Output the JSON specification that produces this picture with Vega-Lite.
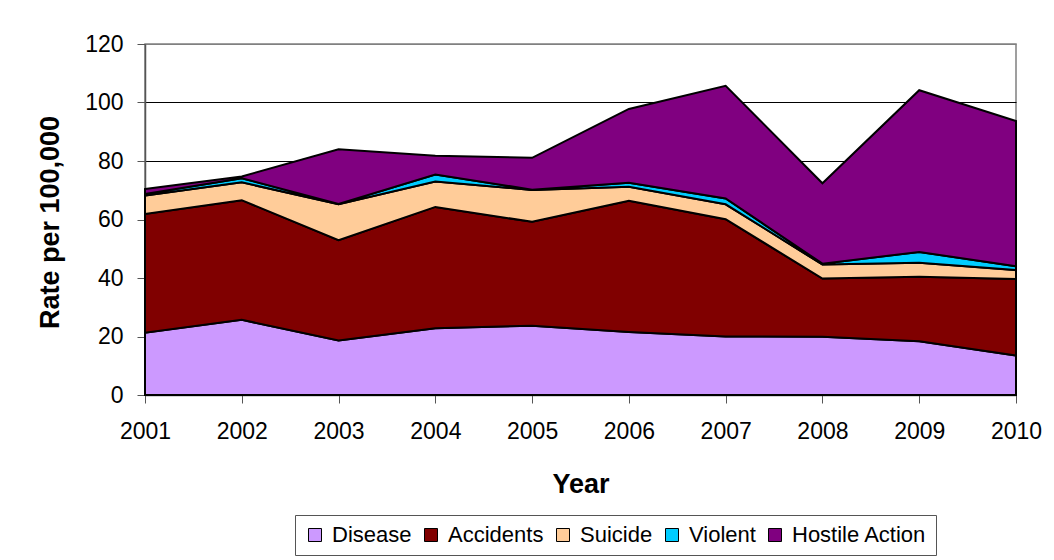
{
  "$schema": "https://vega.github.io/schema/vega-lite/v6.json",
  "autosize": {"type": "none"},
  "width": 871,
  "height": 351,
  "padding": {"left": 145, "top": 44, "right": 38, "bottom": 165},
  "background": "white",
  "config": {
    "font": "Liberation Sans",
    "view": {"stroke": "#808080", "strokeWidth": 1.5}
  },
  "data": {
    "values": [
      {"year": 2001, "cause": "Disease", "rate": 21.3},
      {"year": 2001, "cause": "Accidents", "rate": 40.6},
      {"year": 2001, "cause": "Suicide", "rate": 6.3},
      {"year": 2001, "cause": "Violent", "rate": 0.5},
      {"year": 2001, "cause": "Hostile Action", "rate": 1.7},
      {"year": 2002, "cause": "Disease", "rate": 25.7},
      {"year": 2002, "cause": "Accidents", "rate": 40.9},
      {"year": 2002, "cause": "Suicide", "rate": 6.1},
      {"year": 2002, "cause": "Violent", "rate": 1.4},
      {"year": 2002, "cause": "Hostile Action", "rate": 0.6},
      {"year": 2003, "cause": "Disease", "rate": 18.6},
      {"year": 2003, "cause": "Accidents", "rate": 34.3},
      {"year": 2003, "cause": "Suicide", "rate": 12.3},
      {"year": 2003, "cause": "Violent", "rate": 0.1},
      {"year": 2003, "cause": "Hostile Action", "rate": 18.7},
      {"year": 2004, "cause": "Disease", "rate": 22.8},
      {"year": 2004, "cause": "Accidents", "rate": 41.5},
      {"year": 2004, "cause": "Suicide", "rate": 8.7},
      {"year": 2004, "cause": "Violent", "rate": 2.4},
      {"year": 2004, "cause": "Hostile Action", "rate": 6.4},
      {"year": 2005, "cause": "Disease", "rate": 23.7},
      {"year": 2005, "cause": "Accidents", "rate": 35.5},
      {"year": 2005, "cause": "Suicide", "rate": 10.9},
      {"year": 2005, "cause": "Violent", "rate": 0.1},
      {"year": 2005, "cause": "Hostile Action", "rate": 10.9},
      {"year": 2006, "cause": "Disease", "rate": 21.5},
      {"year": 2006, "cause": "Accidents", "rate": 44.9},
      {"year": 2006, "cause": "Suicide", "rate": 4.8},
      {"year": 2006, "cause": "Violent", "rate": 1.4},
      {"year": 2006, "cause": "Hostile Action", "rate": 25.2},
      {"year": 2007, "cause": "Disease", "rate": 20.0},
      {"year": 2007, "cause": "Accidents", "rate": 40.1},
      {"year": 2007, "cause": "Suicide", "rate": 5.1},
      {"year": 2007, "cause": "Violent", "rate": 2.0},
      {"year": 2007, "cause": "Hostile Action", "rate": 38.5},
      {"year": 2008, "cause": "Disease", "rate": 19.9},
      {"year": 2008, "cause": "Accidents", "rate": 19.9},
      {"year": 2008, "cause": "Suicide", "rate": 4.8},
      {"year": 2008, "cause": "Violent", "rate": 0.3},
      {"year": 2008, "cause": "Hostile Action", "rate": 27.5},
      {"year": 2009, "cause": "Disease", "rate": 18.4},
      {"year": 2009, "cause": "Accidents", "rate": 22.0},
      {"year": 2009, "cause": "Suicide", "rate": 4.8},
      {"year": 2009, "cause": "Violent", "rate": 3.7},
      {"year": 2009, "cause": "Hostile Action", "rate": 55.3},
      {"year": 2010, "cause": "Disease", "rate": 13.5},
      {"year": 2010, "cause": "Accidents", "rate": 26.2},
      {"year": 2010, "cause": "Suicide", "rate": 3.0},
      {"year": 2010, "cause": "Violent", "rate": 1.3},
      {"year": 2010, "cause": "Hostile Action", "rate": 49.7}
    ]
  },
  "transform": [
    {"calculate": "indexof(['Disease','Accidents','Suicide','Violent','Hostile Action'], datum.cause)", "as": "stackOrder"}
  ],
  "mark": {"type": "area", "stroke": "black", "strokeWidth": 2, "strokeJoin": "miter", "opacity": 1},
  "encoding": {
    "x": {
      "field": "year",
      "type": "quantitative",
      "scale": {"domain": [2001, 2010], "nice": false, "zero": false},
      "axis": {
        "values": [2001, 2002, 2003, 2004, 2005, 2006, 2007, 2008, 2009, 2010],
        "format": "d",
        "grid": false,
        "labelFontSize": 23,
        "labelColor": "black",
        "labelBaseline": "middle",
        "labelPadding": 28,
        "tickSize": 8,
        "tickColor": "#555555",
        "domainColor": "#555555",
        "domainWidth": 1.5,
        "labelFlush": false,
        "title": "Year",
        "titleFontSize": 27,
        "titleFontWeight": "bold",
        "titleColor": "black",
        "titleBaseline": "middle",
        "titleX": 435.5,
        "titleY": 89
      }
    },
    "y": {
      "field": "rate",
      "type": "quantitative",
      "stack": "zero",
      "scale": {"domain": [0, 120], "nice": false},
      "axis": {
        "values": [0, 20, 40, 60, 80, 100, 120],
        "grid": true,
        "gridColor": {"condition": {"test": "datum.value == 120", "value": "#808080"}, "value": "black"},
        "gridWidth": 1,
        "labelFontSize": 23,
        "labelColor": "black",
        "labelPadding": 14,
        "tickSize": 8,
        "tickColor": "#555555",
        "domainColor": "#555555",
        "domainWidth": 1.5,
        "title": "Rate per 100,000",
        "titleFontSize": 27,
        "titleFontWeight": "bold",
        "titleColor": "black",
        "titleAngle": -90,
        "titleBaseline": "middle",
        "titleAlign": "center",
        "titleX": -95,
        "titleY": 178
      }
    },
    "color": {
      "field": "cause",
      "type": "nominal",
      "scale": {
        "domain": ["Disease", "Accidents", "Suicide", "Violent", "Hostile Action"],
        "range": ["#CC99FF", "#800000", "#FFCC99", "#00CCFF", "#800080"]
      },
      "legend": {
        "title": null,
        "orient": "none",
        "legendX": 150,
        "legendY": 471,
        "direction": "horizontal",
        "symbolType": "square",
        "symbolSize": 169,
        "symbolStrokeColor": "black",
        "symbolStrokeWidth": 1,
        "symbolOpacity": 1,
        "labelFontSize": 22,
        "labelColor": "black",
        "labelOffset": 6,
        "columnPadding": 8,
        "padding": 9,
        "strokeColor": "#555555",
        "fillColor": "white"
      }
    },
    "order": {"field": "stackOrder", "type": "quantitative"}
  }
}
